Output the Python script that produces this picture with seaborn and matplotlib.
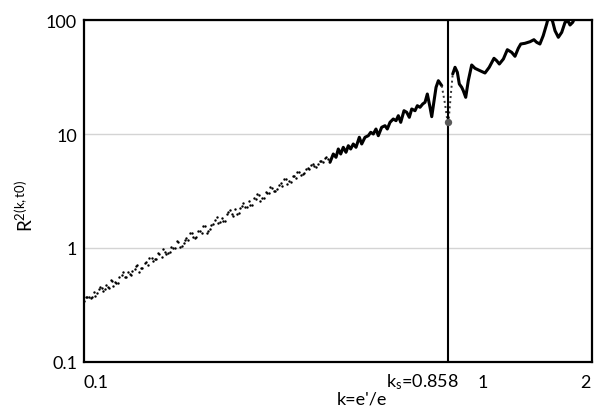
import matplotlib
matplotlib.use("Agg")
import numpy as np
import pandas as pd
import matplotlib.pyplot as plt
import seaborn as sns
from matplotlib.ticker import NullLocator
from matplotlib.transforms import ScaledTranslation

# ---------------- data ----------------
k_dots_a = [0.100, 0.102, 0.104, 0.106, 0.108, 0.110, 0.112, 0.114, 0.116, 0.118,
            0.120, 0.122, 0.125, 0.127, 0.130, 0.132, 0.135, 0.137, 0.140, 0.143,
            0.146, 0.149, 0.152, 0.155, 0.158, 0.161, 0.164, 0.167, 0.171, 0.174,
            0.178, 0.181, 0.185, 0.189, 0.192, 0.196, 0.200, 0.204, 0.208, 0.212,
            0.217, 0.221, 0.225, 0.230, 0.234, 0.239, 0.244, 0.249, 0.254, 0.259,
            0.264, 0.269, 0.275, 0.280, 0.286, 0.292, 0.297, 0.303, 0.309, 0.316,
            0.322, 0.329, 0.335, 0.342, 0.349, 0.356, 0.363, 0.370, 0.378, 0.385,
            0.393, 0.401, 0.409, 0.417]
r_dots_a = [0.343, 0.371, 0.367, 0.413, 0.404, 0.458, 0.421, 0.469, 0.447, 0.516,
            0.504, 0.490, 0.585, 0.554, 0.615, 0.579, 0.651, 0.716, 0.665, 0.737,
            0.716, 0.816, 0.801, 0.900, 0.830, 0.925, 0.913, 1.015, 1.003, 1.124,
            1.042, 1.181, 1.186, 1.350, 1.226, 1.399, 1.358, 1.544, 1.408, 1.604,
            1.763, 1.641, 1.843, 1.741, 2.069, 1.979, 2.188, 2.018, 2.326, 2.278,
            2.610, 2.406, 2.700, 2.909, 2.748, 3.103, 3.025, 3.374, 3.175, 3.600,
            3.520, 4.016, 3.849, 4.258, 4.092, 4.658, 4.474, 4.936, 4.951, 5.499,
            5.136, 5.741, 5.738, 6.269]

k_dots_b = [0.101, 0.105, 0.109, 0.113, 0.117, 0.121, 0.126, 0.131, 0.136, 0.141,
            0.147, 0.153, 0.159, 0.166, 0.173, 0.180, 0.187, 0.194, 0.202, 0.210,
            0.219, 0.227, 0.236, 0.246, 0.256, 0.266, 0.277, 0.289, 0.300, 0.312,
            0.325, 0.338, 0.352, 0.366, 0.381, 0.397, 0.413]
r_dots_b = [0.371, 0.374, 0.441, 0.438, 0.522, 0.492, 0.611, 0.595, 0.699, 0.661,
            0.824, 0.795, 0.973, 0.926, 1.142, 1.100, 1.346, 1.251, 1.557, 1.482,
            1.863, 1.713, 2.144, 1.991, 2.500, 2.377, 2.954, 2.748, 3.402, 3.271,
            4.030, 3.799, 4.641, 4.548, 5.386, 5.406, 6.209]

k_dots_c = [0.103, 0.107, 0.111, 0.115, 0.119, 0.123, 0.128, 0.133, 0.138, 0.144,
            0.150, 0.156, 0.162, 0.169, 0.176, 0.183, 0.190, 0.198, 0.206, 0.214,
            0.223, 0.232, 0.241, 0.251, 0.261, 0.272, 0.283, 0.294, 0.306, 0.319,
            0.332, 0.345, 0.359, 0.374, 0.389, 0.405, 0.421]
r_dots_c = [0.375, 0.381, 0.444, 0.458, 0.466, 0.556, 0.556, 0.631, 0.620, 0.755,
            0.772, 0.877, 0.882, 1.010, 1.019, 1.231, 1.238, 1.413, 1.366, 1.619,
            1.688, 1.997, 1.891, 2.249, 2.289, 2.718, 2.607, 3.055, 3.179, 3.704,
            3.665, 4.249, 4.376, 5.043, 5.243, 5.798, 6.017]

k_line = [0.4266, 0.4350, 0.4420, 0.4480, 0.4544, 0.4614, 0.4688, 0.4753, 0.4819, 0.4894,
          0.4973, 0.5071, 0.5143, 0.5244, 0.5347, 0.5424, 0.5507, 0.5595, 0.5672, 0.5786,
          0.5901, 0.5981, 0.6077, 0.6196, 0.6297, 0.6383, 0.6474, 0.6600, 0.6707, 0.6810,
          0.6908, 0.7043, 0.7140, 0.7254, 0.7370, 0.7471, 0.7573, 0.7695, 0.7773, 0.7880,
          0.7973, 0.8082, 0.8245, 0.8407, 0.8523, 0.8580, 0.8694, 0.8797, 0.8917, 0.9040,
          0.9146, 0.9275, 0.9363, 0.9497, 0.9643, 0.9838, 1.003, 1.033, 1.064, 1.091,
          1.122, 1.140, 1.158, 1.186, 1.214, 1.245, 1.270, 1.295, 1.314, 1.347,
          1.388, 1.420, 1.443, 1.471, 1.500, 1.531, 1.556, 1.586, 1.608, 1.640,
          1.673, 1.706, 1.736, 1.757, 1.785, 1.820, 1.886, 1.976]
r_line = [5.647, 6.676, 6.245, 7.386, 6.676, 7.643, 6.909, 7.896, 7.386, 8.172,
          7.643, 9.357, 8.172, 9.357, 9.663, 10.35, 10.00, 11.06, 9.663, 11.45,
          11.83, 11.06, 12.66, 13.54, 13.09, 14.47, 12.66, 16.01, 15.50, 14.01,
          16.57, 16.01, 17.71, 17.15, 18.33, 18.97, 22.43, 17.15, 14.19, 19.59,
          25.68, 29.35, 26.53, 18.33, 13.09, 12.66, 21.68, 33.60, 38.47, 34.77,
          27.46, 25.68, 23.97, 20.98, 29.35, 40.30, 37.70, 35.92, 34.28, 38.47,
          46.13, 43.95, 41.11, 45.49, 54.89, 52.08, 48.04, 56.47, 61.58, 62.46,
          64.51, 67.18, 63.73, 61.58, 72.83, 92.24, 115.2, 96.63, 80.56, 70.50,
          78.00, 95.46, 98.00, 90.40, 95.46, 110.6, 124.9, 130.0]

k_s = 0.858
r_at_ks = 12.66

x_ticks = [0.1, 1, 2]
x_tick_labels = ["0.1", "1", "2"]
y_ticks = [0.1, 1, 10, 100]
y_tick_labels = ["0.1", "1", "10", "100"]

# ---------------- style ----------------
sns.set_theme(style="white")
plt.rcParams["font.family"] = ["Lato", "DejaVu Sans"]
plt.rcParams["mathtext.fontset"] = "custom"
plt.rcParams["mathtext.rm"] = "Lato"
plt.rcParams["mathtext.it"] = "Lato:italic"
plt.rcParams["text.color"] = "black"
plt.rcParams["xtick.color"] = "black"
plt.rcParams["ytick.color"] = "black"

W, H = 595, 410
fig = plt.figure(figsize=(W / 100, H / 100), dpi=100)
ax = fig.add_axes([84 / W, 1 - 363 / H, 508 / W, 342 / H])

df_line = pd.DataFrame({"k": k_line, "R": r_line})
seg1 = df_line[df_line.k <= 0.8245]
seg2 = df_line[(df_line.k >= 0.8245) & (df_line.k <= 0.8797)]
seg3 = df_line[df_line.k >= 0.8797]

for kd, rd in [(k_dots_a, r_dots_a), (k_dots_b, r_dots_b), (k_dots_c, r_dots_c)]:
    sns.scatterplot(x=kd, y=rd, s=3, color="black", linewidth=0, ax=ax)

line_kw = dict(estimator=None, color="black", lw=2.2, ax=ax,
               solid_joinstyle="round", solid_capstyle="round")
sns.lineplot(data=seg1, x="k", y="R", **line_kw)
sns.lineplot(data=seg2, x="k", y="R", estimator=None, color="#333333", lw=1.4,
             linestyle=":", ax=ax)
sns.lineplot(data=seg3, x="k", y="R", **line_kw)
ax.axvline(k_s, color="black", lw=1.5, zorder=3)
sns.scatterplot(x=[k_s], y=[r_at_ks], s=28, color="#5a5a5a", linewidth=0, ax=ax, zorder=4)

ax.set_xscale("log")
ax.set_yscale("log")
ax.set_xlim(0.1, 2.0)
ax.set_ylim(0.1, 100)

ax.set_yticks(y_ticks, labels=y_tick_labels)
ax.set_xticks(x_ticks, labels=x_tick_labels)
ax.yaxis.set_minor_locator(NullLocator())
ax.set_xticks([1], minor=True)
ax.set_xticklabels([""], minor=True)
ax.tick_params(axis="both", which="major", length=0, labelsize=13)
ax.tick_params(axis="y", which="major", pad=5)
ax.tick_params(axis="x", which="major", pad=9)
ax.tick_params(axis="x", which="minor", direction="in", length=4, width=1.3,
               color="black", bottom=True)
ax.set_xlabel("")
ax.set_ylabel("")

ax.grid(False)
ax.grid(axis="y", which="major", color="#d4d4d4", lw=1.0)
ax.set_axisbelow(True)
for sp in ax.spines.values():
    sp.set_visible(True)
    sp.set_color("black")
    sp.set_linewidth(1.6)
ax.spines["top"].set_zorder(5)

# shift the x tick labels the way the reference places them
for lbl, dx in zip(ax.get_xticklabels(), [12, 8.5, -7]):
    lbl.set_transform(lbl.get_transform() + ScaledTranslation(dx / 100, 0, fig.dpi_scale_trans))

fig.text(422 / W, 1 - 382 / H, r"$\mathregular{k_s}$=0.858", fontsize=13,
         ha="center", va="center")
fig.text(362 / W, 1 - 400 / H, "k=e'/e", fontsize=13, ha="center", va="center")
fig.text(25 / W, 1 - 206 / H, r"$\mathregular{R^{2(k,t0)}}$", fontsize=13.5,
         rotation=90, ha="center", va="center")

fig.savefig("out.png", dpi=100)
